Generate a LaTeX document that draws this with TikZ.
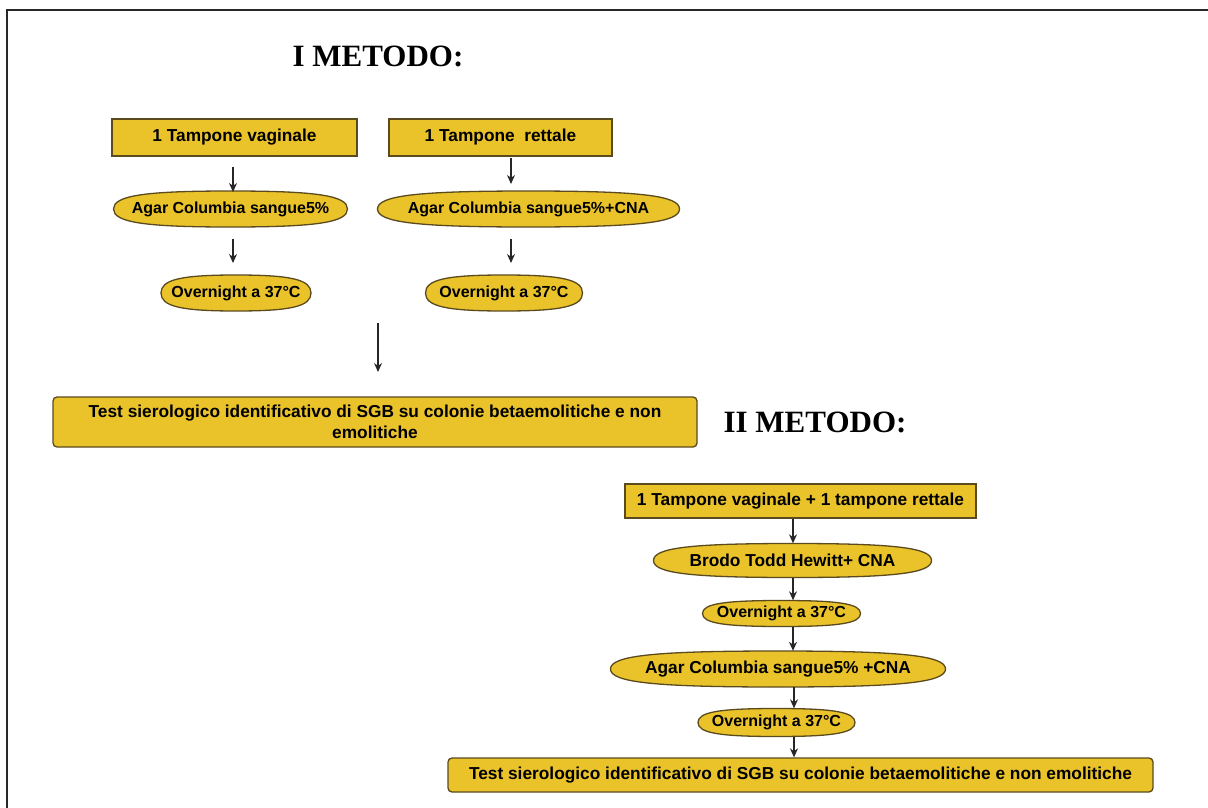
\documentclass[tikz,border=0pt]{standalone}
\usepackage{fontspec}
\setmainfont{Liberation Sans}
\newfontfamily\titlefont{Liberation Serif}
\usetikzlibrary{arrows.meta,backgrounds}
\definecolor{boxfill}{RGB}{234,195,42}
\definecolor{boxline}{RGB}{90,74,30}
\definecolor{framecol}{RGB}{40,40,40}
\tikzset{
  txt/.style={inner sep=0pt,font=\fontsize{17.3}{21}\selectfont\bfseries,text=black},
  smalltxt/.style={font=\fontsize{16}{19}\selectfont\bfseries},
  base/.style={txt,fill=boxfill,draw=boxline,line width=1.3pt},
  rectbox/.style={base,rectangle},
  roundbox/.style={base,rectangle,rounded corners=4pt},
  ovaltext/.style={txt,rectangle},
  ovalshape/.style={fill=boxfill,draw=boxline,line width=1.3pt},
  arr/.style={-{Stealth[length=9pt,width=8pt]},line width=1.3pt,draw=black!85},
  ttl/.style={font=\titlefont\fontsize{31}{35}\selectfont\bfseries}
}
% #1 name, #2 x, #3 y, #4 width, #5 height, #6 extra style, #7 text
\newcommand{\ovalnode}[7]{%
  \node[ovaltext,#6,minimum width=#4pt,minimum height=#5pt] (#1) at (#2,#3) {#7};
  \begin{scope}[on background layer,shift={(#1.center)}]
    \pgfmathsetmacro{\oa}{#4/2}\pgfmathsetmacro{\ob}{#5/2}
    \pgfmathsetmacro{\ka}{0.74*#4/2}\pgfmathsetmacro{\kb}{0.74*#5/2}
    \filldraw[ovalshape] (\oa,0) .. controls (\oa,\kb) and (\ka,\ob) .. (0,\ob)
      .. controls (-\ka,\ob) and (-\oa,\kb) .. (-\oa,0)
      .. controls (-\oa,-\kb) and (-\ka,-\ob) .. (0,-\ob)
      .. controls (\ka,-\ob) and (\oa,-\kb) .. (\oa,0) -- cycle;
  \end{scope}}
\begin{document}
\begin{tikzpicture}[x=1pt,y=-1pt]
\useasboundingbox (0,0) rectangle (1208,808);
\draw[framecol,line width=1.5pt] (7,808) -- (7,10) -- (1208,10);
% Method I
\node[ttl] (t1) at (378,56) {I METODO:};
\node[rectbox,minimum width=245pt,minimum height=37pt] (b1) at (234.5,137.5) {1 Tampone vaginale};
\node[rectbox,minimum width=223pt,minimum height=37pt] (b2) at (500.5,137.5) {1 Tampone\ \ rettale};
\ovalnode{e1}{230.5}{209}{234}{36}{smalltxt}{Agar Columbia sangue5\%}
\ovalnode{e2}{528.5}{209}{302}{36}{smalltxt}{Agar Columbia sangue5\%+CNA}
\ovalnode{o1}{236}{293}{150}{36}{smalltxt}{Overnight a 37°C}
\ovalnode{o2}{504}{293}{157}{36}{smalltxt}{Overnight a 37°C}
\node[roundbox,minimum width=644pt,minimum height=50pt,align=center] (tst1) at (375,422)
  {Test sierologico identificativo di SGB su colonie betaemolitiche e non\\emolitiche};
\coordinate (a1s) at (233,167); \coordinate (a1e) at (233,192);
\coordinate (a2s) at (233,239); \coordinate (a2e) at (233,263);
\coordinate (a3s) at (511,158); \coordinate (a3e) at (511,184);
\coordinate (a4s) at (511,239); \coordinate (a4e) at (511,263);
\coordinate (a5s) at (378,323); \coordinate (a5e) at (378,372);
\draw[arr] (a1s) -- (a1e);
\draw[arr] (a2s) -- (a2e);
\draw[arr] (a3s) -- (a3e);
\draw[arr] (a4s) -- (a4e);
\draw[arr] (a5s) -- (a5e);
% Method II
\node[ttl] (t2) at (815,422) {II METODO:};
\node[rectbox,minimum width=351pt,minimum height=34pt] (m1) at (800.5,501) {1 Tampone vaginale + 1 tampone rettale};
\ovalnode{m2}{792.5}{560.5}{278}{34}{}{Brodo Todd Hewitt+ CNA}
\ovalnode{m3}{781.5}{613.5}{158}{26}{smalltxt}{Overnight a 37°C}
\ovalnode{m4}{778}{669}{335}{36}{}{Agar Columbia sangue5\% +CNA}
\ovalnode{m5}{776.5}{722.5}{157}{28}{smalltxt}{Overnight a 37°C}
\node[roundbox,minimum width=705pt,minimum height=34pt] (m6) at (800.5,775) {Test sierologico identificativo di SGB su colonie betaemolitiche e non emolitiche};
\draw[arr] (m1.south -| 793,0) -- (m2.north -| 793,0);
\draw[arr] (m2.south -| 793,0) -- (m3.north -| 793,0);
\draw[arr] (m3.south -| 793,0) -- (m4.north -| 793,0);
\draw[arr] (m4.south -| 794,0) -- (m5.north -| 794,0);
\draw[arr] (m5.south -| 794,0) -- (m6.north -| 794,0);
\end{tikzpicture}
\end{document}
